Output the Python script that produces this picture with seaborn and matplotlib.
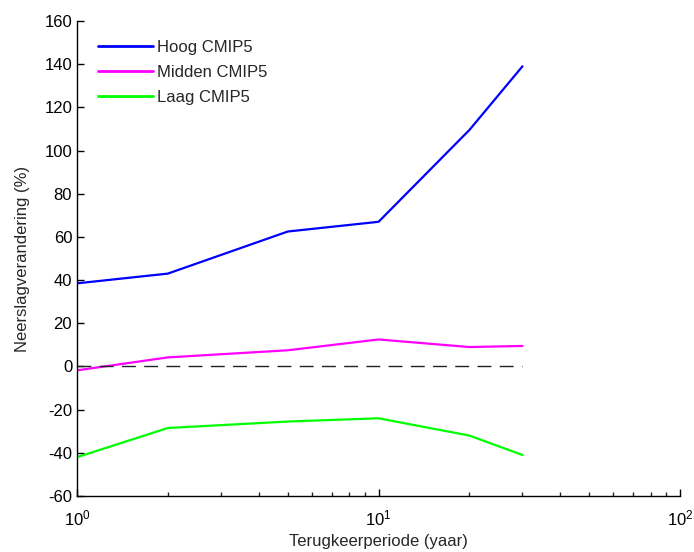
import matplotlib
matplotlib.use("Agg")
import matplotlib.pyplot as plt
import seaborn as sns
import pandas as pd
import numpy as np
from matplotlib.ticker import LogLocator

sns.set_theme(style="ticks")
plt.rcParams['font.family'] = ['Liberation Sans', 'DejaVu Sans']
plt.rcParams['mathtext.fontset'] = 'custom'
plt.rcParams['mathtext.rm'] = 'Liberation Sans'
plt.rcParams['axes.unicode_minus'] = False

periods = [1, 2, 5, 10, 20, 30]
hoog = [38.5, 43, 62.5, 67, 109.5, 139]
midden = [-1.8, 4.2, 7.5, 12.5, 9, 9.5]
laag = [-42, -28.5, -25.5, -24, -32, -41]
series_names = ["Hoog CMIP5", "Midden CMIP5", "Laag CMIP5"]
colors = ["#0000ff", "#ff00ff", "#00ff00"]
zero_x = [1, 30]
zero_y = [0, 0]

df = pd.DataFrame({
    "x": periods * 3,
    "y": hoog + midden + laag,
    "serie": [series_names[0]] * 6 + [series_names[1]] * 6 + [series_names[2]] * 6,
})

fig = plt.figure(figsize=(6.94, 5.52), dpi=100)
ax = fig.add_axes([0.111, 0.1014, 0.869, 0.8606])

sns.lineplot(data=df, x="x", y="y", hue="serie", palette=colors, linewidth=1.6, ax=ax)
ax.plot(zero_x, zero_y, color="#222222", linestyle=(0, (10, 6)), linewidth=1.0)

ax.set_xscale("log")
ax.set_xlim(1, 100)
ax.set_ylim(-60, 160)
ax.set_yticks(np.arange(-60, 161, 20))
ax.xaxis.set_minor_locator(LogLocator(base=10, subs=np.arange(2, 10)))
ax.tick_params(axis="both", which="major", direction="in", length=5, width=1, labelsize=12, colors="black")
ax.tick_params(axis="x", which="minor", direction="in", length=3, width=1)
ax.tick_params(axis="x", pad=9)
for s in ["top", "right"]:
    ax.spines[s].set_visible(False)
for s in ["left", "bottom"]:
    ax.spines[s].set_color("black")
    ax.spines[s].set_linewidth(1)

ax.set_xlabel("Terugkeerperiode (yaar)", fontsize=12, labelpad=4)
ax.set_ylabel("Neerslagverandering (%)", fontsize=12, labelpad=10)

leg = ax.legend(loc="upper left", frameon=False, fontsize=12, handlelength=3.3,
                handletextpad=0.25, labelspacing=0.6, borderaxespad=0.3,
                bbox_to_anchor=(0.015, 0.985))
for line in leg.get_lines():
    line.set_linewidth(2)

fig.savefig("out.png", dpi=100)
